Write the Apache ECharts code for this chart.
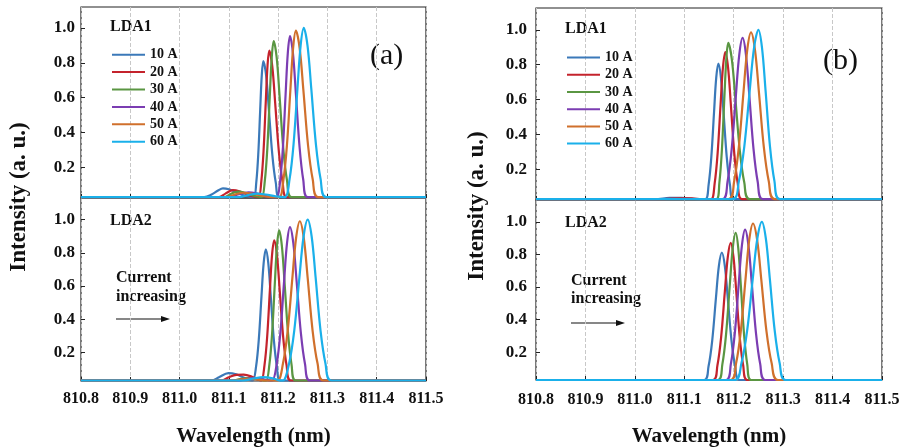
<!DOCTYPE html>
<html>
<head>
<meta charset="utf-8">
<script src="https://cdn.jsdelivr.net/npm/echarts@6/dist/echarts.min.js"></script>
<style>
  html, body { margin: 0; padding: 0; background: #fff; }
  #chart { width: 903px; height: 448px; }
</style>
</head>
<body>
<div id="chart"></div>
<script>
// legend names and tick values
const currents = ['10 A', '20 A', '30 A', '40 A', '50 A', '60 A']
const yTicks = [0.2, 0.4, 0.6, 0.8, 1.0]

// (a) LDA1 spectra, [wavelength nm, intensity]
const a1_10 = [[810.8,.03],[811.05,.03],[811.065,.045],[811.078,.068],[811.088,.08],[811.1,.075],[811.115,.058],[811.13,.04],[811.142,.033],[811.1508,.03],[811.1556,.113],[811.1596,.272],[811.1636,.531],[811.1668,.728],[811.17,.81],[811.1756,.728],[811.1812,.531],[811.1882,.272],[811.1952,.113],[811.2036,.03],[811.5,.03]]
const a1_20 = [[810.8,.03],[811.08,.03],[811.093,.05],[811.108,.07],[811.123,.062],[811.138,.045],[811.152,.032],[811.1604,.03],[811.1658,.119],[811.1703,.29],[811.1748,.569],[811.1784,.782],[811.182,.87],[811.188,.782],[811.194,.569],[811.2015,.29],[811.209,.119],[811.218,.03],[811.5,.03]]
const a1_30 = [[810.8,.03],[811.09,.03],[811.104,.048],[811.118,.062],[811.133,.055],[811.148,.04],[811.16,.032],[811.167,.03],[811.173,.125],[811.178,.307],[811.183,.605],[811.187,.831],[811.191,.925],[811.197,.831],[811.203,.605],[811.2105,.307],[811.218,.125],[811.227,.03],[811.5,.03]]
const a1_40 = [[810.8,.03],[811.1,.03],[811.118,.045],[811.14,.058],[811.158,.05],[811.175,.036],[811.19,.03],[811.1976,.03],[811.2042,.128],[811.2097,.316],[811.2152,.623],[811.2196,.856],[811.224,.953],[811.23,.856],[811.236,.623],[811.2435,.316],[811.251,.128],[811.26,.03],[811.5,.03]]
const a1_50 = [[810.8,.03],[811.095,.03],[811.112,.045],[811.13,.055],[811.15,.048],[811.17,.036],[811.188,.03],[811.2024,.03],[811.2108,.131],[811.2178,.326],[811.2248,.643],[811.2304,.885],[811.236,.985],[811.2436,.885],[811.2512,.643],[811.2607,.326],[811.2702,.131],[811.2816,.03],[811.5,.03]]
const a1_60 = [[810.8,.03],[811.12,.03],[811.14,.042],[811.157,.05],[811.175,.045],[811.195,.034],[811.2136,.03],[811.2232,.133],[811.2312,.331],[811.2392,.653],[811.2456,.898],[811.252,1.0],[811.2596,.898],[811.2672,.653],[811.2767,.331],[811.2862,.133],[811.2976,.03],[811.5,.03]]

// (a) LDA2
const a2_10 = [[810.8,.03],[811.065,.03],[811.08,.05],[811.099,.075],[811.115,.068],[811.13,.048],[811.142,.034],[811.1486,.03],[811.1552,.114],[811.1607,.275],[811.1662,.537],[811.1706,.737],[811.175,.82],[811.18,.737],[811.185,.537],[811.1913,.275],[811.1975,.114],[811.205,.03],[811.5,.03]]
const a2_20 = [[810.8,.03],[811.085,.03],[811.1,.05],[811.115,.064],[811.13,.065],[811.145,.055],[811.158,.036],[811.1656,.03],[811.1722,.12],[811.1777,.292],[811.1832,.572],[811.1876,.786],[811.192,.875],[811.1976,.786],[811.2032,.572],[811.2102,.292],[811.2172,.12],[811.2256,.03],[811.5,.03]]
const a2_30 = [[810.8,.03],[811.11,.03],[811.125,.04],[811.14,.045],[811.155,.04],[811.168,.032],[811.1756,.03],[811.1822,.126],[811.1877,.311],[811.1932,.611],[811.1976,.84],[811.202,.935],[811.2076,.84],[811.2132,.611],[811.2202,.311],[811.2272,.126],[811.2356,.03],[811.5,.03]]
const a2_40 = [[810.8,.03],[811.12,.03],[811.135,.04],[811.15,.045],[811.165,.04],[811.18,.032],[811.188,.03],[811.197,.128],[811.2045,.317],[811.212,.624],[811.218,.858],[811.224,.955],[811.2308,.858],[811.2376,.624],[811.2461,.317],[811.2546,.128],[811.2648,.03],[811.5,.03]]
const a2_50 = [[810.8,.03],[811.11,.03],[811.125,.037],[811.14,.04],[811.158,.037],[811.175,.03],[811.1984,.03],[811.2098,.132],[811.2193,.328],[811.2288,.646],[811.2364,.889],[811.244,.99],[811.252,.889],[811.26,.646],[811.27,.328],[811.28,.132],[811.292,.03],[811.5,.03]]
const a2_60 = [[810.8,.03],[811.13,.03],[811.15,.042],[811.17,.05],[811.19,.042],[811.2,.032],[811.2096,.03],[811.2222,.133],[811.2327,.331],[811.2432,.653],[811.2516,.898],[811.26,1.0],[811.268,.898],[811.276,.653],[811.286,.331],[811.296,.133],[811.308,.03],[811.5,.03]]

// (b) LDA1
const b1_10 = [[810.8,.03],[811.04,.03],[811.07,.037],[811.095,.038],[811.12,.032],[811.1426,.03],[811.1492,.112],[811.1547,.271],[811.1602,.528],[811.1646,.725],[811.169,.806],[811.1742,.725],[811.1794,.528],[811.1859,.271],[811.1924,.112],[811.2002,.03],[811.5,.03]]
const b1_20 = [[810.8,.03],[811.06,.03],[811.09,.035],[811.115,.034],[811.135,.03],[811.1542,.03],[811.1614,.119],[811.1674,.291],[811.1734,.571],[811.1782,.784],[811.183,.873],[811.1886,.784],[811.1942,.571],[811.2012,.291],[811.2082,.119],[811.2166,.03],[811.5,.03]]
const b1_30 = [[810.8,.03],[811.165,.03],[811.171,.125],[811.176,.307],[811.181,.605],[811.185,.831],[811.189,.925],[811.1962,.831],[811.2034,.605],[811.2124,.307],[811.2214,.125],[811.2322,.03],[811.5,.03]]
const b1_40 = [[810.8,.03],[811.1772,.03],[811.1874,.128],[811.1959,.316],[811.2044,.623],[811.2112,.857],[811.218,.954],[811.2248,.857],[811.2316,.623],[811.2401,.316],[811.2486,.128],[811.2588,.03],[811.5,.03]]
const b1_50 = [[810.8,.03],[811.1894,.03],[811.2008,.131],[811.2103,.326],[811.2198,.643],[811.2274,.885],[811.235,.985],[811.243,.885],[811.251,.643],[811.261,.326],[811.271,.131],[811.283,.03],[811.5,.03]]
const b1_60 = [[810.8,.03],[811.1972,.03],[811.2104,.133],[811.2214,.331],[811.2324,.653],[811.2412,.898],[811.25,1.0],[811.2572,.898],[811.2644,.653],[811.2734,.331],[811.2824,.133],[811.2932,.03],[811.5,.03]]

// (b) LDA2
const b2_10 = [[810.8,.03],[811.14,.03],[811.149,.113],[811.1565,.272],[811.164,.532],[811.17,.73],[811.176,.812],[811.182,.73],[811.188,.532],[811.1955,.272],[811.203,.113],[811.212,.03],[811.5,.03]]
const b2_20 = [[810.8,.03],[811.158,.03],[811.167,.119],[811.1745,.291],[811.182,.57],[811.188,.783],[811.194,.871],[811.1996,.783],[811.2052,.57],[811.2122,.291],[811.2192,.119],[811.2276,.03],[811.5,.03]]
const b2_30 = [[810.8,.03],[811.168,.03],[811.177,.126],[811.1845,.31],[811.192,.61],[811.198,.838],[811.204,.933],[811.2092,.838],[811.2144,.61],[811.2209,.31],[811.2274,.126],[811.2352,.03],[811.5,.03]]
const b2_40 = [[810.8,.03],[811.1846,.03],[811.1942,.128],[811.2022,.316],[811.2102,.622],[811.2166,.855],[811.223,.952],[811.2298,.855],[811.2366,.622],[811.2451,.316],[811.2536,.128],[811.2638,.03],[811.5,.03]]
const b2_50 = [[810.8,.03],[811.1934,.03],[811.2048,.132],[811.2143,.328],[811.2238,.646],[811.2314,.889],[811.239,.99],[811.2474,.889],[811.2558,.646],[811.2663,.328],[811.2768,.132],[811.2894,.03],[811.5,.03]]
const b2_60 = [[810.8,.03],[811.2018,.03],[811.2156,.133],[811.2271,.331],[811.2386,.653],[811.2478,.898],[811.257,1.0],[811.265,.898],[811.273,.653],[811.283,.331],[811.293,.133],[811.305,.03],[811.5,.03]]

const palette = ['#3b79b9', '#c4232c', '#5a9642', '#7b3db2', '#d0702c', '#1ab0ea']
const font = 'Liberation Serif'

const panels = [
    [a1_10, a1_20, a1_30, a1_40, a1_50, a1_60],
    [a2_10, a2_20, a2_30, a2_40, a2_50, a2_60],
    [b1_10, b1_20, b1_30, b1_40, b1_50, b1_60],
    [b2_10, b2_20, b2_30, b2_40, b2_50, b2_60]
]

const grids = [
    { left: 81, top: 7, width: 345, height: 191 },
    { left: 81, top: 198, width: 345, height: 192 },
    { left: 536, top: 8, width: 346, height: 192 },
    { left: 536, top: 200, width: 346, height: 192 }
]
const yRanges = [[0.025, 1.12], [0.027, 1.13], [0.025, 1.125], [0.03, 1.134]]

let xAxes = []
let yAxes = []
let series = []

grids.forEach((g, i) => {
    g.show = true
    g.borderColor = '#222'
    g.borderWidth = 1.2
    let bottom = (i % 2 === 1)
    xAxes.push({
        type: 'value', gridIndex: i, min: 810.8, max: 811.5, interval: 0.1,
        axisLine: { show: false },
        axisTick: { show: true, inside: true, length: 4, lineStyle: { color: '#222' } },
        splitLine: { show: true, lineStyle: { type: 'dashed', color: '#c8c8c8' } },
        axisLabel: {
            show: bottom, margin: i === 1 ? 10 : 12, color: '#111',
            fontFamily: font, fontWeight: 'bold', fontSize: 16,
            formatter: (v) => v.toFixed(1)
        },
        name: bottom ? 'Wavelength (nm)' : '',
        nameLocation: 'middle', nameGap: i === 1 ? 45 : 46,
        nameTextStyle: { fontFamily: font, fontWeight: 'bold', fontSize: 21, color: '#111' }
    })
    yAxes.push({
        type: 'value', gridIndex: i, min: yRanges[i][0], max: yRanges[i][1],
        axisLine: { show: false },
        splitLine: { show: false },
        axisTick: { show: true, inside: true, length: 4, customValues: yTicks, lineStyle: { color: '#222' } },
        axisLabel: {
            customValues: yTicks, margin: i < 2 ? 6 : 9, color: '#111',
            fontFamily: font, fontWeight: 'bold', fontSize: 17,
            formatter: (v) => v.toFixed(1)
        }
    })
    panels[i].forEach((d, k) => {
        series.push({
            type: 'line', name: currents[k], xAxisIndex: i, yAxisIndex: i,
            data: d, showSymbol: false, symbol: 'none', smooth: 0.35,
            lineStyle: { width: 2.2, color: palette[k] },
            itemStyle: { color: palette[k] },
            emphasis: { disabled: true }
        })
    })
})

function legendAt(left, top, lh) {
    return {
        data: currents, orient: 'vertical', left: left, top: top, padding: 0,
        itemWidth: 33, itemHeight: 2, itemGap: 0, icon: 'rect',
        textStyle: { fontFamily: font, fontWeight: 'bold', fontSize: 14, lineHeight: lh, color: '#111' }
    }
}

function label(x, y, text, size, weight) {
    return {
        type: 'text', left: x, top: y - size / 2,
        style: { text: text, fontFamily: font, fontWeight: weight, fontSize: size, fill: '#111' }
    }
}

function arrow(x1, x2, y) {
    return {
        type: 'group',
        children: [
            { type: 'line', shape: { x1: x1, y1: y, x2: x2 - 6, y2: y }, style: { stroke: '#111', lineWidth: 1.2 } },
            { type: 'polygon', shape: { points: [[x2, y], [x2 - 9, y - 3], [x2 - 9, y + 3]] }, style: { fill: '#111' } }
        ]
    }
}

function yTitle(x, y) {
    return {
        type: 'text', x: x, y: y, rotation: Math.PI / 2,
        style: {
            text: 'Intensity (a. u.)', fontFamily: font, fontWeight: 'bold', fontSize: 23,
            fill: '#111', align: 'center', verticalAlign: 'middle'
        }
    }
}

let chart = echarts.init(document.getElementById('chart'), null, { renderer: 'canvas' })
chart.setOption({
    animation: false,
    backgroundColor: '#fff',
    grid: grids,
    xAxis: xAxes,
    yAxis: yAxes,
    legend: [legendAt(112, 46, 17.4), legendAt(567, 49, 17.2)],
    series: series,
    graphic: [
        yTitle(19, 197),
        yTitle(477, 206),
        label(110, 27, 'LDA1', 16, 'bold'),
        label(110, 221, 'LDA2', 16, 'bold'),
        label(565, 29, 'LDA1', 16, 'bold'),
        label(565, 223, 'LDA2', 16, 'bold'),
        label(370, 56, '(a)', 30, 'normal'),
        label(823, 61, '(b)', 30, 'normal'),
        label(116, 278, 'Current', 16, 'bold'),
        label(116, 297, 'increasing', 16, 'bold'),
        label(571, 281, 'Current', 16, 'bold'),
        label(571, 299, 'increasing', 16, 'bold'),
        arrow(116, 170, 319),
        arrow(571, 625, 323)
    ]
})
</script>
</body>
</html>
